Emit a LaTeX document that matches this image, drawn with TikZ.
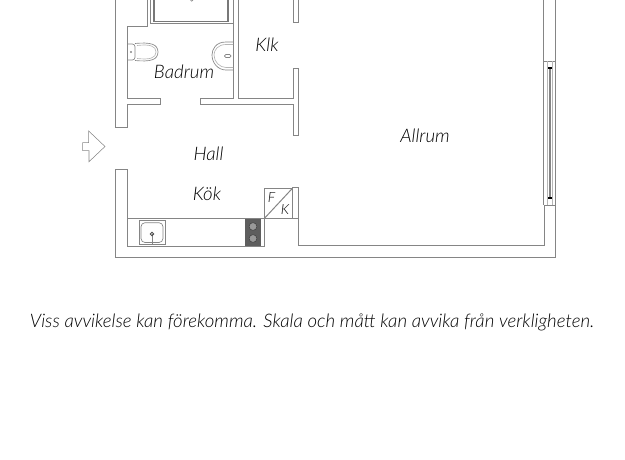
\documentclass[tikz,border=0pt]{standalone}
\usepackage{fontspec}
\setmainfont{Lato Light}
\usepackage{xcolor}
\usepackage{tikz}
\definecolor{wallgray}{HTML}{858585}
\definecolor{hobgray}{HTML}{5E5E5E}
\begin{document}
\begin{tikzpicture}[
    x=0.75pt, y=-0.75pt,
    wall/.style={draw=wallgray, line width=0.75pt},
    fixture/.style={draw=wallgray, line width=0.5pt},
    roomlabel/.style={font=\fontsize{14}{15}\selectfont\itshape, text=black, inner sep=0pt},
    boxlabel/.style={font=\fontsize{10.5}{12}\selectfont\itshape, text=black, inner sep=0pt}
]

\useasboundingbox (0, 0) rectangle (625, 460);

\draw[wall] (115, 0) -- (115, 128) -- (127, 128) -- (127, 105) -- (160, 105) -- (160, 98.5) -- (127, 98.5) -- (127, 27) -- (147, 27) -- (147, 0);
\draw[wall] (233, 0) -- (233, 98.5) -- (200, 98.5) -- (200, 105) -- (293, 105) -- (293, 135) -- (298.5, 135) -- (298.5, 68.5) -- (293, 68.5) -- (293, 98.5) -- (238.5, 98.5) -- (238.5, 0);
\draw[wall] (293, 0) -- (293, 22.5) -- (298.5, 22.5) -- (298.5, 0);
\draw[wall] (115, 169) -- (127, 169) -- (127, 246) -- (264, 246) -- (264, 218.5) -- (127, 218.5);
\draw[wall] (115, 169) -- (115, 257.5) -- (555, 257.5) -- (555, 205) -- (544, 205) -- (544, 245.5) -- (298, 245.5) -- (298, 187.5) -- (292.7, 187.5) -- (292.7, 218.5);
\draw[wall] (264, 218.5) -- (298, 218.5);
\draw[wall] (543.5, 0) -- (543.5, 61.5) -- (555, 61.5) -- (555, 0);
\draw[wall] (543.5, 61.5) -- (543.5, 205);
\draw[wall] (555, 61.5) -- (555, 205);

\draw[fixture, draw=wallgray!60] (547.5, 61.5) -- (547.5, 205);
\draw[fixture, draw=wallgray!60] (552, 61.5) -- (552, 205);
\draw[wallgray, line width=0.7pt] (549, 68) -- (549, 198);
\draw[wallgray, line width=0.7pt] (550.7, 68) -- (550.7, 198);
\draw[black, line width=0.9pt] (548, 68) -- (552, 68);
\draw[black, line width=0.9pt] (548, 198) -- (552, 198);

\draw[wall] (150, 0) -- (150, 24) -- (233, 24);
\draw[wallgray!90!black, line width=1pt] (154, 0) -- (154, 21.5) -- (228, 21.5) -- (228, 0);
\draw[fixture] (191.7, 0) circle (1.2);

\draw[fixture, rounded corners=2] (127, 44) -- (135, 44) -- (135, 60) -- (127, 60);
\draw[fixture] (135, 43.5) .. controls (150, 42) and (158, 44) .. (158, 52) .. controls (158, 60) and (150, 62) .. (135, 60.5);
\draw[fixture, draw=wallgray!60] (137, 45.5) .. controls (150, 44) and (156, 46) .. (156, 52) .. controls (156, 58) and (150, 60) .. (137, 58.5);
\fill[wallgray] (131, 52) circle (1.2);

\draw[fixture] (233, 42) -- (226, 42) .. controls (216, 42) and (212, 49) .. (212, 55) .. controls (212, 63) and (218, 70) .. (226, 70) -- (233, 70);
\draw[fixture, draw=wallgray!60] (233, 44.5) -- (226, 44.5) .. controls (218, 44.5) and (214, 50) .. (214, 55) .. controls (214, 62) and (220, 67.5) .. (226, 67.5) -- (233, 67.5);
\draw[fixture, rounded corners=1] (224.5, 54.5) rectangle (231, 57.5);

\draw[fixture] (139, 220.7) rectangle (165, 244.5);
\draw[fixture, rounded corners=3] (141, 222.7) rectangle (163, 242.5);
\draw[fixture] (152, 234) -- (152, 244.5);
\draw[black!70, line width=0.6pt] (152, 234) circle (1.8);

\fill[hobgray] (245, 218.5) rectangle (261, 246);
\draw[fill=black!40, draw=black!75, line width=0.4pt] (253, 226.5) circle (3.9);
\draw[fill=black!40, draw=black!75, line width=0.4pt] (253, 238.5) circle (3.9);

\draw[wall] (264.3, 218.5) -- (264.3, 188) -- (292.7, 188);
\draw[wall] (264.3, 218.5) -- (292.7, 188);
\node[boxlabel] (fbox) at (271.5, 197.5) {F};
\node[boxlabel] (kbox) at (285, 209.5) {K};

\draw[wallgray, line width=0.4pt] (82.7, 142.7) -- (88.7, 142.7) -- (88.7, 131) -- (105, 146.5) -- (89, 161.7) -- (89, 150.7) -- (82.7, 150.7) -- cycle;

\node[roomlabel] (badrum) at (184, 72) {Badrum};
\node[roomlabel] (klk) at (267, 45) {Klk};
\node[roomlabel] (allrum) at (425, 136) {Allrum};
\node[roomlabel] (hall) at (208.5, 154) {Hall};
\node[roomlabel] (kok) at (207, 194) {Kök};
\node[roomlabel] (footer) at (312, 322) {Viss avvikelse kan förekomma. Skala och mått kan avvika från verkligheten.};

\end{tikzpicture}
\end{document}
